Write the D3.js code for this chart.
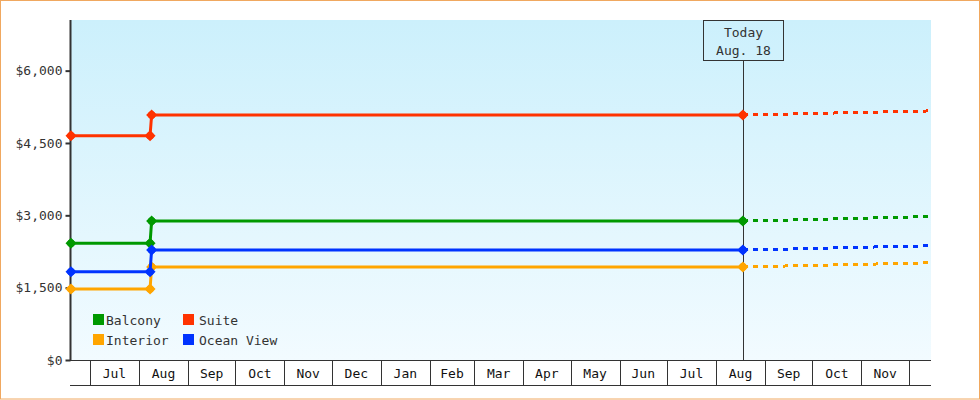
<!DOCTYPE html>
<html>
<head>
<meta charset="utf-8">
<script src="https://cdn.jsdelivr.net/npm/d3@7"></script>
<style>
  body { margin: 0; background: #fff; }
  svg text { font-family: "DejaVu Sans Mono", monospace; font-size: 13px; fill: #333; }
</style>
</head>
<body>
<svg id="mainsvg" width="980" height="400"></svg>
<script>
// data
const seriesNames = ['Balcony', 'Interior', 'Suite', 'Ocean View'];
const seriesColors = ['#009900', '#ffa500', '#ff3300', '#0033ff'];
const priceDates = ['2017-06-19', '2017-08-08', '2017-08-09', '2018-08-18'];
const balcony = [2420, 2420, 2880, 2880];
const interior = [1470, 1470, 1930, 1930];
const suite = [4650, 4650, 5080, 5080];
const oceanView = [1830, 1830, 2280, 2280];
const projectedEnd = [2975, 2015, 5165, 2370]; // same order as seriesNames
const domainDates = ['2017-06-19', '2018-12-15'];
const todayDate = '2018-08-18';
const yTicks = [0, 1500, 3000, 4500, 6000];

const svg = d3.select('#mainsvg');
const width = +svg.attr('width');
const height = +svg.attr('height');
const margin = {top: 20, right: 49, bottom: 40, left: 71};
const parse = d3.timeParse('%Y-%m-%d');

const allValues = [balcony, interior, suite, oceanView];

// frame
svg.append('rect')
  .attr('x', 0.5).attr('y', 0.5)
  .attr('width', width - 1).attr('height', height - 1.5)
  .attr('fill', '#fff').attr('stroke', '#f0a860');

const defs = svg.append('defs');
const grad = defs.append('linearGradient').attr('id', 'bg')
  .attr('x1', 0).attr('y1', 0).attr('x2', 0).attr('y2', 1);
grad.append('stop').attr('offset', '0%').attr('stop-color', '#ccf0fc');
grad.append('stop').attr('offset', '100%').attr('stop-color', '#f2fbff');

const xScale = d3.scaleTime()
  .domain(domainDates.map(parse))
  .range([margin.left, width - margin.right]);

const yScale = d3.scaleLinear()
  .domain([0, 7050])
  .range([height - margin.bottom, margin.top]);

const x0 = margin.left, x1 = width - margin.right;
const yBottom = height - margin.bottom;

svg.append('rect')
  .attr('x', x0).attr('y', margin.top)
  .attr('width', x1 - x0).attr('height', yBottom - margin.top)
  .attr('fill', 'url(#bg)');

// y axis
const yAxis = svg.append('g')
  .attr('transform', `translate(${x0 - 0.5},0)`)
  .call(d3.axisLeft(yScale).tickValues(yTicks).tickSize(5).tickPadding(3)
    .tickFormat(d => '$' + d3.format(',')(d)));
yAxis.select('.domain').remove();
yAxis.selectAll('.tick line').attr('stroke', '#333').attr('stroke-width', 2);
yAxis.selectAll('.tick text').attr('fill', '#333').style('font-family', '"DejaVu Sans Mono", monospace').style('font-size', '13px');
svg.append('line')
  .attr('x1', x0 - 0.5).attr('x2', x0 - 0.5)
  .attr('y1', margin.top).attr('y2', yBottom)
  .attr('stroke', '#333').attr('stroke-width', 2);

// x axis: month cells
const axisG = svg.append('g').attr('shape-rendering', 'crispEdges');
const cellBottom = yBottom + 25;
axisG.append('line')
  .attr('x1', x0 - 1).attr('x2', x1).attr('y1', yBottom + 0.5).attr('y2', yBottom + 0.5)
  .attr('stroke', '#333');
axisG.append('line')
  .attr('x1', x0 - 1).attr('x2', x1).attr('y1', cellBottom + 0.5).attr('y2', cellBottom + 0.5)
  .attr('stroke', '#333');

const months = d3.timeMonth.range(xScale.domain()[0], xScale.domain()[1]);
axisG.selectAll('.divider')
  .data(months)
  .join('line')
  .attr('class', 'divider')
  .attr('x1', d => Math.round(xScale(d)) + 0.5)
  .attr('x2', d => Math.round(xScale(d)) + 0.5)
  .attr('y1', yBottom).attr('y2', cellBottom)
  .attr('stroke', '#333');

const fullMonths = months.filter(d => d3.timeMonth.offset(d, 1) <= xScale.domain()[1]);
svg.selectAll('.monthLabel')
  .data(fullMonths)
  .join('text')
  .attr('class', 'monthLabel')
  .attr('x', d => (xScale(d) + xScale(d3.timeMonth.offset(d, 1))) / 2)
  .attr('y', yBottom + 13)
  .attr('dy', '0.35em')
  .attr('text-anchor', 'middle')
  .style('fill', '#111')
  .text(d3.timeFormat('%b'));

// today marker
const xToday = Math.round(xScale(parse(todayDate))) + 0.5;
svg.append('line')
  .attr('x1', xToday).attr('x2', xToday)
  .attr('y1', margin.top + 40).attr('y2', yBottom)
  .attr('stroke', '#333').attr('shape-rendering', 'crispEdges');
svg.append('rect')
  .attr('x', xToday - 40).attr('y', margin.top + 0.5)
  .attr('width', 80).attr('height', 40)
  .attr('fill', 'none').attr('stroke', '#333').attr('shape-rendering', 'crispEdges');
svg.append('text')
  .attr('x', xToday).attr('y', margin.top + 12).attr('dy', '0.35em')
  .attr('text-anchor', 'middle').text('Today');
svg.append('text')
  .attr('x', xToday).attr('y', margin.top + 30).attr('dy', '0.35em')
  .attr('text-anchor', 'middle').text('Aug. 18');

// series
const line = d3.line()
  .x(d => xScale(d.date))
  .y(d => yScale(d.value));

const seriesG = svg.append('g');
seriesNames.forEach((name, i) => {
  const pts = priceDates.map((dt, j) => ({date: parse(dt), value: allValues[i][j]}));
  const last = pts[pts.length - 1];
  const proj = [last, {date: xScale.domain()[1], value: projectedEnd[i]}];

  seriesG.append('path')
    .attr('d', line(proj))
    .attr('fill', 'none')
    .attr('stroke', seriesColors[i])
    .attr('stroke-width', 3)
    .attr('stroke-dasharray', '5,5')
    .attr('shape-rendering', 'crispEdges');

  seriesG.append('path')
    .attr('d', line(pts))
    .attr('fill', 'none')
    .attr('stroke', seriesColors[i])
    .attr('stroke-width', 3);

  const marks = seriesG.selectAll(null)
    .data(pts)
    .join('g')
    .attr('transform', d => `translate(${xScale(d.date)},${yScale(d.value)})`)
    .attr('fill', seriesColors[i]);
  marks.append('path').attr('d', 'M0,-5.5L5.5,0L0,5.5L-5.5,0Z');
  marks.append('circle').attr('r', 3.8);
});

// legend
const legend = svg.append('g').attr('transform', 'translate(93,314)');
const legendItems = legend.selectAll('.legend-item')
  .data(seriesNames)
  .join('g')
  .attr('class', 'legend-item')
  .attr('transform', (d, i) => `translate(${Math.floor(i / 2) * 90}, ${(i % 2) * 20})`);
legendItems.append('rect')
  .attr('width', 11).attr('height', 11)
  .attr('fill', (d, i) => seriesColors[i]);
legendItems.append('text')
  .attr('x', (d, i) => i < 2 ? 13 : 16)
  .attr('y', 6)
  .attr('dy', '0.35em')
  .text(d => d);
</script>
</body>
</html>
